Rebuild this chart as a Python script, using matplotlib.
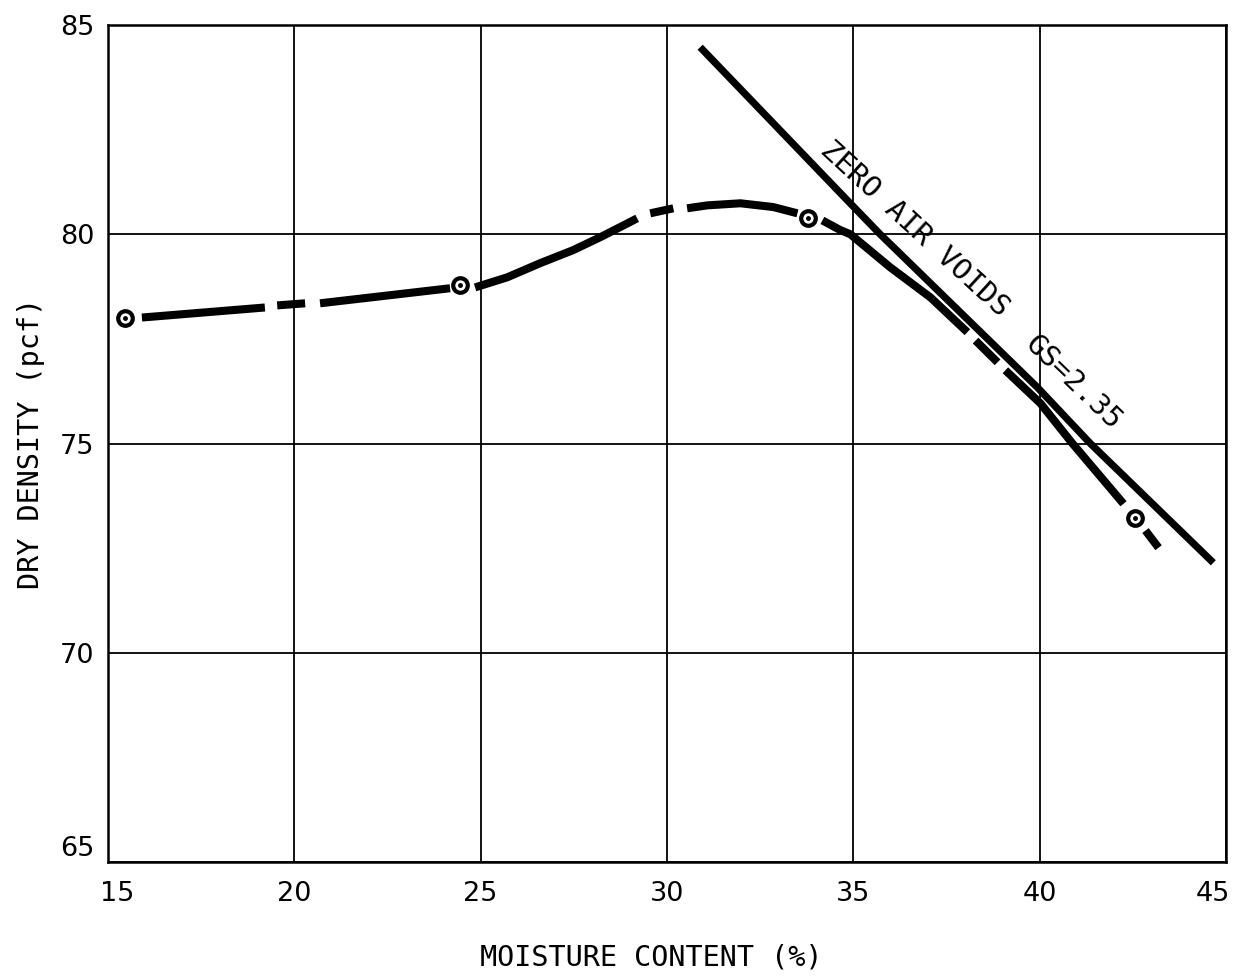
import numpy as np
import matplotlib
matplotlib.use("Agg")
import matplotlib.pyplot as plt
from matplotlib.transforms import ScaledTranslation

# Compaction test points: moisture content (%) vs dry density (pcf)
moisture = [15.46, 24.45, 33.79, 42.57]
density = [77.99, 78.78, 80.38, 73.21]

# Hand-drawn compaction curve knots
curve_x = [15.91, 19.21, 19.54, 20.29, 20.69, 24.18,
           24.85, 25.71, 26.60, 27.48, 28.21, 28.74, 29.20,
           29.55, 30.17,
           30.54, 31.08, 31.97, 32.85, 33.50,
           34.17, 34.65, 34.92, 35.99, 37.07, 38.06,
           38.28, 38.87,
           39.08, 40.02, 40.88, 42.25,
           42.84, 43.19]
curve_y = [78.01, 78.25, 78.30, 78.35, 78.35, 78.71,
           78.73, 78.97, 79.31, 79.62, 79.93, 80.17, 80.38,
           80.50, 80.62,
           80.62, 80.69, 80.74, 80.65, 80.50,
           80.33, 80.10, 80.00, 79.21, 78.49, 77.66,
           77.46, 76.94,
           76.75, 75.96, 75.00, 73.56,
           72.92, 72.51]
# index ranges (inclusive) of the drawn pieces of the curve
curve_pieces = [(0, 1), (2, 3), (4, 5), (6, 12), (13, 14), (15, 19),
                (20, 25), (26, 27), (28, 31), (32, 33)]

# Zero air voids line, Gs = 2.35
zav_x = [30.89, 34.84, 35.72, 39.94, 41.36, 44.66]
zav_y = [84.47, 80.81, 80.00, 76.34, 75.00, 72.15]

x_ticks = [15, 20, 25, 30, 35, 40, 45]
y_ticks = [65, 70, 75, 80, 85]

mono = ["DejaVu Sans Mono"]
sans = ["DejaVu Sans"]

fig = plt.figure(figsize=(12.36, 9.8), dpi=100)
ax = fig.add_axes([108 / 1236, 1 - 862 / 980, 1118 / 1236, 837 / 980])

ax.set_xlim(15, 45)
ax.set_ylim(65, 85)
ax.set_xticks(x_ticks)
ax.set_yticks(y_ticks)
ax.set_xticklabels([str(v) for v in x_ticks], fontfamily=sans, fontsize=19.5)
ax.set_yticklabels([str(v) for v in y_ticks], fontfamily=sans, fontsize=19.5)
ax.tick_params(axis="both", length=0, colors="black")
ax.tick_params(axis="x", pad=14)
ax.tick_params(axis="y", pad=10)


def nudge(label, dx_px, dy_px):
    label.set_transform(label.get_transform()
                        + ScaledTranslation(dx_px / 100, dy_px / 100, fig.dpi_scale_trans))


# keep the corner labels clear of the frame corners
fig.canvas.draw()
xlabels = ax.get_xticklabels()
nudge(xlabels[0], 9, 0)
nudge(xlabels[-1], -13, 0)
ylabels = ax.get_yticklabels()
nudge(ylabels[0], 0, 16)

ax.grid(True, color="black", linewidth=1.3)
ax.set_axisbelow(True)
for s in ax.spines.values():
    s.set_linewidth(1.8)
    s.set_color("black")

# zero air voids curve
ax.plot(zav_x, zav_y, color="black", linewidth=5.2, solid_capstyle="butt", zorder=3)

# compaction curve, drawn as broken pieces
cx = np.array(curve_x)
cy = np.array(curve_y)
for i0, i1 in curve_pieces:
    ax.plot(cx[i0:i1 + 1], cy[i0:i1 + 1], color="black", linewidth=5.8,
            solid_capstyle="butt", solid_joinstyle="round", zorder=3)

# test points
ax.plot(moisture, density, linestyle="none", marker="o", markersize=10.5,
        markerfacecolor="white", markeredgecolor="black", markeredgewidth=3.0, zorder=4)
ax.plot(moisture, density, linestyle="none", marker="o", markersize=2.5,
        markerfacecolor="black", markeredgecolor="black", zorder=5)

ax.text(36.66, 80.14, "ZERO AIR VOIDS", rotation=-42.5, rotation_mode="anchor",
        ha="center", va="center", fontfamily=mono, fontsize=21, zorder=6)
ax.text(40.91, 76.46, "GS=2.35", rotation=-44, rotation_mode="anchor",
        ha="center", va="center", fontfamily=mono, fontsize=21, zorder=6)

ax.set_xlabel("MOISTURE CONTENT (%)", fontfamily=mono, fontsize=20.5, va="center")
ax.set_ylabel("DRY DENSITY (pcf)", fontfamily=mono, fontsize=20.5, va="center")
ax.xaxis.set_label_coords((651 - 108) / 1118, (862 - 957) / 837)
ax.yaxis.set_label_coords((31 - 108) / 1118, 0.5)

fig.savefig("out.png", dpi=100, facecolor="white")
